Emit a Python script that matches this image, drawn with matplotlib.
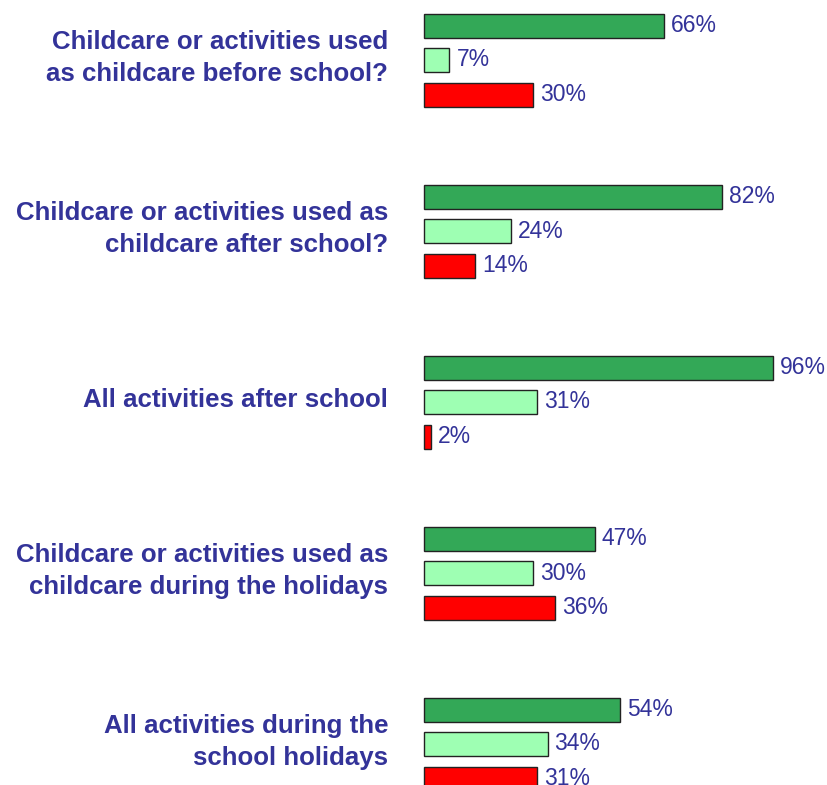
import matplotlib.pyplot as plt
import numpy as np

plt.rcParams['font.family'] = ['Liberation Sans', 'DejaVu Sans']

questions = [
    'Childcare or activities used\nas childcare before school?',
    'Childcare or activities used as\nchildcare after school?',
    'All activities after school',
    'Childcare or activities used as\nchildcare during the holidays',
    'All activities during the\nschool holidays',
]
dark = [66, 82, 96, 47, 54]
light = [7, 24, 31, 30, 34]
red = [30, 14, 2, 36, 31]

series = [dark, light, red]
colors = ['#33a857', '#9effb3', '#ff0000']
text_color = '#333399'

W, H = 827, 785
fig = plt.figure(figsize=(W / 100, H / 100), dpi=100)
px_per_pct = 3.635
ax = fig.add_axes([424 / W, 0, 100 * px_per_pct / W, 1])
ax.set_xlim(0, 100)
ax.set_ylim(H, 0)
ax.axis('off')

group_pitch = 171
bar_pitch = 34.5
first_center = 60
bar_h = 24

idx = np.arange(len(questions))
centers = first_center + idx * group_pitch
for j, (vals, col) in enumerate(zip(series, colors)):
    ys = centers + (j - 1) * bar_pitch
    ax.barh(ys, vals, height=bar_h, color=col, edgecolor='#222222',
            linewidth=1.0, clip_on=False)
    for y, v in zip(ys, vals):
        ax.annotate(f'{v}%', (v, y), xytext=(7, 0), textcoords='offset pixels',
                    va='center', ha='left', fontsize=16.5, color=text_color,
                    annotation_clip=False)

for c, q in zip(centers, questions):
    ax.annotate(q, (0, c), xytext=(-36, 2), textcoords='offset pixels',
                ha='right', va='center', fontsize=18.6, fontweight='bold',
                color=text_color, linespacing=1.38, annotation_clip=False)

fig.savefig('out.png', dpi=100)
